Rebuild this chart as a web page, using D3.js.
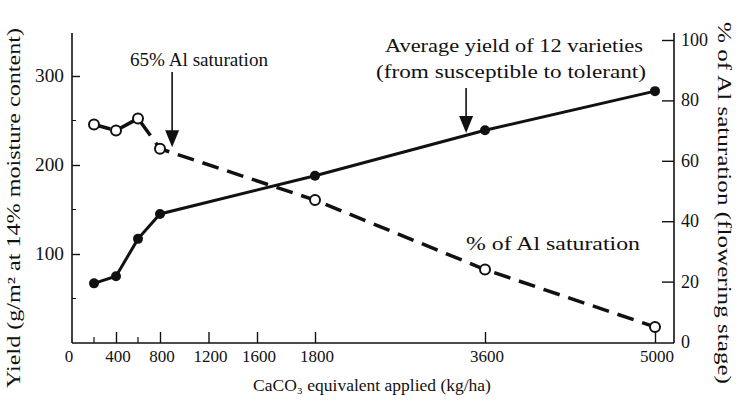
<!DOCTYPE html>
<html><head><meta charset="utf-8">
<script src="https://cdn.jsdelivr.net/npm/d3@7"></script>
<style>
html,body{margin:0;padding:0;background:#fff;}
svg{display:block;font-family:"Liberation Serif","DejaVu Serif",serif;}
</style></head>
<body><svg id="c" width="738" height="406"></svg>
<script>
// Data
const limeApplied = [200, 400, 600, 800, 1800, 3600, 5000];
const avgYield = [67, 75, 117, 145, 188, 239, 283];
const alSaturation = [72, 70, 74, 64, 47, 24, 5];
const xTickLabels = [0, 400, 800, 1200, 1600, 1800, 3600, 5000];
const xMinorTicks = [200, 600];
const yLeftTicks = [100, 200, 300];
const yRightTicks = [0, 20, 40, 60, 80, 100];

const svg = d3.select("#c");
const ink = "#111";

// Scales (broken, polylinear x axis as in the original figure)
const x = d3.scaleLinear().domain([0, 800, 1600, 1800, 3600, 5000]).range([72, 160, 257, 315, 485, 655]);
const yL = d3.scaleLinear().domain([0, 300]).range([343, 76]);
const yR = d3.scaleLinear().domain([0, 100]).range([342, 40]);

const g = svg.append("g");

// Axes lines
g.append("line").attr("x1",72).attr("x2",72).attr("y1",33).attr("y2",343).attr("stroke",ink).attr("stroke-width",1.6);
g.append("line").attr("x1",674).attr("x2",674).attr("y1",33).attr("y2",343).attr("stroke",ink).attr("stroke-width",1.6);
g.append("line").attr("x1",72).attr("x2",674).attr("y1",343).attr("y2",343).attr("stroke",ink).attr("stroke-width",1.6);

// Left axis (ticks inward)
const axL = d3.axisRight(yL).tickValues(yLeftTicks).tickSize(8).tickFormat("");
const gl = g.append("g").attr("transform","translate(72,0)").call(axL);
gl.select(".domain").remove();
gl.selectAll(".tick line").attr("stroke",ink).attr("stroke-width",1.4);
g.selectAll(".lminor").data([50,150,250]).join("line")
  .attr("x1",72).attr("x2",76).attr("y1",d=>yL(d)).attr("y2",d=>yL(d)).attr("stroke",ink).attr("stroke-width",1);
g.selectAll(".llab").data(yLeftTicks).join("text")
  .attr("x",64).attr("y",d=>yL(d)+6).attr("text-anchor","end").attr("font-size",18).attr("fill",ink)
  .attr("textLength",29).attr("lengthAdjust","spacingAndGlyphs").text(d=>d);

// Right axis (ticks inward)
const axR = d3.axisLeft(yR).tickValues(yRightTicks.filter(d=>d>0)).tickSize(12).tickFormat("");
const gr = g.append("g").attr("transform","translate(674,0)").call(axR);
gr.select(".domain").remove();
gr.selectAll(".tick line").attr("stroke",ink).attr("stroke-width",1.4);
g.selectAll(".rlab").data(yRightTicks).join("text")
  .attr("x",681).attr("y",d=>yR(d)+6).attr("text-anchor","start").attr("font-size",18).attr("fill",ink).text(d=>d);

// Bottom axis (ticks inward)
const axB = d3.axisTop(x).tickValues(xTickLabels.filter(d=>d>0)).tickSize(11).tickFormat("");
const gb = g.append("g").attr("transform","translate(0,343)").call(axB);
gb.select(".domain").remove();
gb.selectAll(".tick line").attr("stroke",ink).attr("stroke-width",1.4);
g.selectAll(".bminor").data(xMinorTicks).join("line")
  .attr("x1",d=>x(d)).attr("x2",d=>x(d)).attr("y1",343).attr("y2",337).attr("stroke",ink).attr("stroke-width",1.2);
g.selectAll(".blab").data(xTickLabels).join("text")
  .attr("x",d=>x(d)+(d===0?-3:2)).attr("y",362).attr("text-anchor","middle").attr("font-size",17).attr("fill",ink).text(d=>d);

// Axis titles
g.append("text").attr("x",372).attr("y",391).attr("text-anchor","middle").attr("font-size",17.5).attr("fill",ink)
  .text("CaCO\u2083 equivalent applied (kg/ha)");
g.append("text").attr("transform","translate(20,208) rotate(-90)").attr("text-anchor","middle").attr("font-size",18).attr("fill",ink)
  .attr("textLength",360).attr("lengthAdjust","spacingAndGlyphs")
  .text("Yield (g/m\u00B2 at 14% moisture content)");
g.append("text").attr("transform","translate(718,203) rotate(90)").attr("text-anchor","middle").attr("font-size",18).attr("fill",ink)
  .attr("textLength",362).attr("lengthAdjust","spacingAndGlyphs")
  .text("% of Al saturation (flowering stage)");

// Lines
const lineY = d3.line().x((d,i)=>x(limeApplied[i])).y(d=>yL(d));
const lineA = d3.line().x((d,i)=>x(limeApplied[i])).y(d=>yR(d));
g.append("path").datum(avgYield).attr("d",lineY).attr("fill","none").attr("stroke",ink).attr("stroke-width",3);
g.append("path").datum(alSaturation).attr("d",lineA).attr("fill","none").attr("stroke",ink).attr("stroke-width",3.5).attr("stroke-dasharray","17,9");

// Points
g.selectAll(".py").data(avgYield).join("circle")
  .attr("cx",(d,i)=>x(limeApplied[i])).attr("cy",d=>yL(d)).attr("r",5).attr("fill",ink);
g.selectAll(".pa").data(alSaturation).join("circle")
  .attr("cx",(d,i)=>x(limeApplied[i])).attr("cy",d=>yR(d)).attr("r",5).attr("fill","#fff").attr("stroke",ink).attr("stroke-width",2);

// Annotations with arrows
function arrow(xp, yTop, yTip){
  g.append("line").attr("x1",xp).attr("x2",xp).attr("y1",yTop).attr("y2",yTip-14).attr("stroke",ink).attr("stroke-width",1.6);
  g.append("path").attr("d",`M${xp-7},${yTip-17}L${xp+7},${yTip-17}L${xp},${yTip}Z`).attr("fill",ink);
}
function label(tx, ty, len, str){
  g.append("text").attr("x",tx).attr("y",ty).attr("text-anchor","middle").attr("font-size",18).attr("fill",ink)
    .attr("textLength",len).attr("lengthAdjust","spacingAndGlyphs").text(str);
}
arrow(x(900), 72, yR(64.5));
label(199, 66, 138, "65% Al saturation");

arrow(x(3400), 88, yL(236));
label(514, 52, 258, "Average yield of 12 varieties");
label(511, 78, 270, "(from susceptible to tolerant)");

label(553, 250, 174, "% of Al saturation");
</script></body></html>
